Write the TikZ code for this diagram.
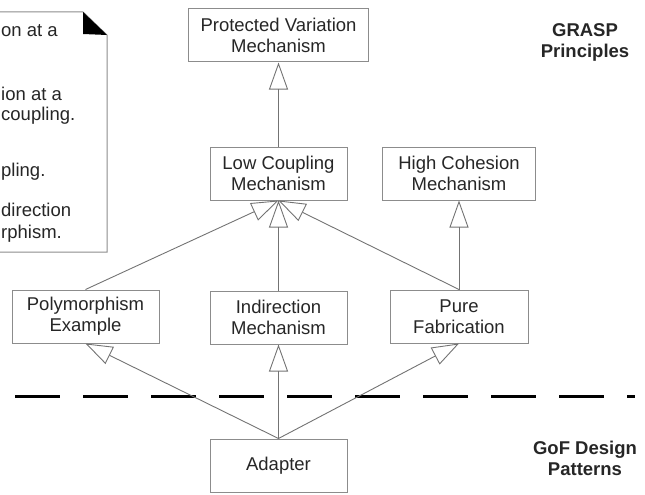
\documentclass[tikz,border=0pt]{standalone}
\usepackage{fontspec}
\setmainfont{Liberation Sans}
\usetikzlibrary{arrows.meta,positioning}

\begin{document}
\begin{tikzpicture}[
  x=1pt, y=1pt,
  font=\fontsize{18.5}{21}\selectfont,
  cls/.style={rectangle,draw=black!45,line width=1pt,minimum height=53pt,
              inner sep=0pt,align=center,text=black!85},
  lbl/.style={font=\fontsize{18.5}{21}\selectfont\bfseries,align=center,text=black!85},
  notetxt/.style={anchor=base west,inner sep=0pt,text=black!85},
  gen/.style={draw=black!55,line width=0.9pt,
              -{Triangle[open,length=27pt,width=19pt]}}
]
\clip (0,0) rectangle (645,-495);

% note (cut off at the left)
\draw[draw=black!45,line width=1pt,fill=white]
  (-5,-12) -- (83,-12) -- (107,-35) -- (107,-252) -- (-5,-252) -- cycle;
\fill[black] (83,-12) -- (83,-34) -- (107,-35) -- cycle;
\node[notetxt] (n1) at (1,-37)  {on at a};
\node[notetxt] (n2) at (1,-100) {ion at a};
\node[notetxt] (n3) at (1,-120) {coupling.};
\node[notetxt] (n4) at (1,-176) {pling.};
\node[notetxt] (n5) at (1,-216) {direction};
\node[notetxt] (n6) at (1,-238) {rphism.};

% GRASP classes
\node[cls,minimum width=137pt] (lc) at (278.5,-173.5) {Low Coupling\\Mechanism};
\node[cls,minimum width=180pt,above=84pt of lc] (pv) {Protected Variation\\Mechanism};
\node[cls,minimum width=153pt] (hc) at (459,-173.5) {High Cohesion\\Mechanism};
\node[cls,minimum width=147pt] (poly) at (85.5,-316.5) {Polymorphism\\Example};
\node[cls,minimum width=137pt,below=90pt of lc] (ind) {Indirection\\Mechanism};
\node[cls,minimum width=138pt] (pf) at (459,-316.5) {Pure\\Fabrication};

% GoF
\node[cls,minimum width=137pt,below=94pt of ind] (adp) {Adapter};

\node[lbl] (grasp) at (585,-42) {GRASP\\Principles};
\node[lbl] (gof) at (585,-458.5) {GoF Design\\Patterns};

% separator
\coordinate (sepL) at (15,-396);
\coordinate (sepR) at (635,-396);
\draw[line width=3pt,dash pattern=on 45pt off 23pt] (sepL) -- (sepR);

% generalisations
\draw[gen] (lc.north) -- (pv.south);
\draw[gen] (poly.north) -- (lc.south);
\draw[gen] (ind.north) -- (lc.south);
\draw[gen] (pf.north) -- (lc.south);
\draw[gen] (pf.north) -- (hc.south);
\draw[gen] (adp.north) -- (poly.south);
\draw[gen] (adp.north) -- (ind.south);
\draw[gen] (adp.north) -- (pf.south);
\end{tikzpicture}
\end{document}
